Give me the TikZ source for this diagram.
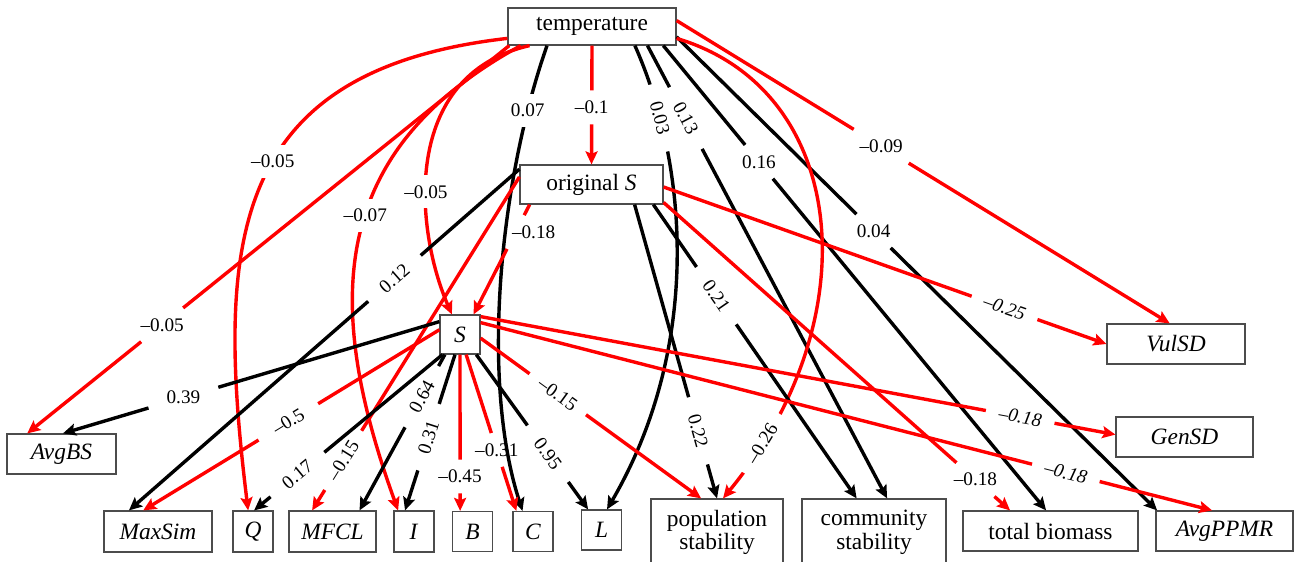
\documentclass[tikz,border=0pt]{standalone}
\usepackage{fontspec}
\setmainfont{Liberation Serif}
\usetikzlibrary{arrows.meta}

\tikzset{
  var/.style={draw=black!70, line width=0.6pt, fill=white, inner sep=0pt,
    font=\fontsize{11.7}{11.8}\selectfont},
  coef/.style={inner sep=0pt, minimum width=34.5pt, minimum height=16.5pt, text=black,
    font=\fontsize{9.6}{11}\selectfont},
  posedge/.style={black, line width=1.7pt},
  negedge/.style={red, line width=1.7pt},
}

\begin{document}
\begin{tikzpicture}[x=0.5pt, y=-0.5pt, >={Stealth[length=6.5pt,width=6pt,inset=1.2pt]}]
\useasboundingbox (0,0) rectangle (1296,562);

% variables
\node[var, minimum width=84pt, minimum height=18.5pt] (temp) at (592,26.5) {temperature};
\node[var, minimum width=71.5pt, minimum height=19.5pt] (origS) at (591.5,184.5) {original \textit{S}};
\node[var, minimum width=20pt, minimum height=19.5pt] (S) at (460,334.5) {\textit{S}};
\node[var, minimum width=69pt, minimum height=20pt] (VulSD) at (1176,344) {\textit{VulSD}};
\node[var, minimum width=68.5pt, minimum height=20pt] (GenSD) at (1184.5,437) {\textit{GenSD}};
\node[var, minimum width=54.5pt, minimum height=20pt] (AvgBS) at (61.5,454) {\textit{AvgBS}};
\node[var, minimum width=54pt, minimum height=20.5pt] (MaxSim) at (158,531.5) {\textit{MaxSim}};
\node[var, minimum width=20pt, minimum height=20.5pt] (Q) at (253,531.5) {\textit{Q}};
\node[var, minimum width=43.5pt, minimum height=20.5pt] (MFCL) at (332.5,531.5) {\textit{MFCL}};
\node[var, minimum width=20pt, minimum height=20.5pt] (I) at (414,531.5) {\textit{I}};
\node[var, minimum width=20pt, minimum height=20pt] (B) at (472.5,531.5) {\textit{B}};
\node[var, minimum width=20pt, minimum height=20pt] (C) at (533,531.5) {\textit{C}};
\node[var, minimum width=20pt, minimum height=20pt] (L) at (601.5,530) {\textit{L}};
\node[var, minimum width=66pt, minimum height=33.5pt, align=center] (popstab) at (717,532.5) {population\\stability};
\node[var, minimum width=72pt, minimum height=33.5pt, align=center] (commstab) at (874,532.5) {community\\stability};
\node[var, minimum width=87.5pt, minimum height=20pt] (totbio) at (1050.5,531) {total biomass};
\node[var, minimum width=68.5pt, minimum height=20pt] (AvgPPMR) at (1224.5,531) {\textit{AvgPPMR}};

% temperature
\path (temp.193) -- node[coef,pos=.72] (c1) {--0.05} (AvgBS.149);
\draw[negedge] (temp.193) -- (c1);
\draw[negedge,->] (c1) -- (AvgBS.149);
\draw[negedge,->] (temp.188) .. controls (230,70) and (215,240) .. (Q.103) node[coef,fill=white,pos=.45] (c2) {--0.05};
\draw[negedge,->] (temp.195) .. controls (330,150) and (322,300) .. (I.127) node[coef,fill=white,pos=.45] (c3) {--0.07};
\draw[negedge,->] (temp.197) .. controls (400,75) and (415,230) .. (S.112) node[coef,fill=white,pos=.6] (c4) {--0.05};
\draw[posedge,->] (temp.203) .. controls (500,180) and (480,380) .. (C.117) node[coef,fill=white,pos=.15] (c5) {0.07};
\path (temp.270) -- node[coef,pos=.52] (c6) {--0.1} (origS.90);
\draw[negedge] (temp.270) -- (c6);
\draw[negedge,->] (c6) -- (origS.90);
\draw[posedge,->] (temp.336) .. controls (690,170) and (700,350) .. (L.75) node[coef,fill=white,pos=.18,sloped] (c7) {0.03};
\path (temp.341) -- node[coef,pos=.16,sloped] (c8) {0.13} (commstab.69);
\draw[posedge] (temp.341) -- (c8);
\draw[posedge,->] (c8) -- (commstab.69);
\path (temp.345) -- node[coef,pos=.25] (c9) {0.16} (totbio.102);
\draw[posedge] (temp.345) -- (c9);
\draw[posedge,->] (c9) -- (totbio.102);
\path (temp.353) -- node[coef,pos=.41] (c10) {0.04} (AvgPPMR.163);
\draw[posedge] (temp.353) -- (c10);
\draw[posedge,->] (c10) -- (AvgPPMR.163);
\draw[negedge,->] (temp.352) .. controls (850,90) and (870,320) .. (popstab.80) node[coef,fill=white,pos=.9,sloped] (c11) {--0.26};
\path (temp.4) -- node[coef,pos=.415] (c12) {--0.09} (VulSD.107);
\draw[negedge] (temp.4) -- (c12);
\draw[negedge,->] (c12) -- (VulSD.107);

% original S
\path (origS.198) -- node[coef,pos=.25] (c13) {\hspace{18pt}--0.18} (S.56);
\draw[negedge] (origS.198) -- (c13);
\draw[negedge,->] (c13) -- (S.56);
\path (origS.168) -- node[coef,pos=.32,sloped] (c14) {0.12} (MaxSim.144);
\draw[posedge] (origS.168) -- (c14);
\draw[posedge,->] (c14) -- (MaxSim.144);
\path (origS.174) -- node[coef,pos=.85,sloped] (c15) {--0.15} (MFCL.134);
\draw[negedge] (origS.174) -- (c15);
\draw[negedge,->] (c15) -- (MFCL.134);
\path (origS.358) -- node[coef,pos=.77,sloped] (c16) {\textit{--0.25}} (VulSD.180);
\draw[negedge] (origS.358) -- (c16);
\draw[negedge,->] (c16) -- (VulSD.180);
\path (origS.346) -- node[coef,pos=.9] (c17) {--0.18} (totbio.153);
\draw[negedge] (origS.346) -- (c17);
\draw[negedge,->] (c17) -- (totbio.153);
\path (origS.335) -- node[coef,pos=.77,sloped] (c18) {0.22} (popstab.90);
\draw[posedge] (origS.335) -- (c18);
\draw[posedge,->] (c18) -- (popstab.90);
\path (origS.342) -- node[coef,pos=.31,sloped] (c19) {0.21} (commstab.117);
\draw[posedge] (origS.342) -- (c19);
\draw[posedge,->] (c19) -- (commstab.117);

% S
\path (S.148) -- node[coef,pos=.68] (c20) {0.39} (AvgBS.86);
\draw[posedge] (S.148) -- (c20);
\draw[posedge,->] (c20) -- (AvgBS.86);
\path (S.167) -- node[coef,pos=.51,sloped] (c21) {--0.5} (MaxSim.125);
\draw[negedge] (S.167) -- (c21);
\draw[negedge,->] (c21) -- (MaxSim.125);
\path (S.229) -- node[coef,pos=.77,sloped] (c22) {0.17} (Q.87);
\draw[posedge] (S.229) -- (c22);
\draw[posedge,->] (c22) -- (Q.87);
\path (S.233) -- node[coef,pos=.27,sloped] (c23) {0.64} (MFCL.38);
\draw[posedge] (S.233) -- (c23);
\draw[posedge,->] (c23) -- (MFCL.38);
\path (S.256) -- node[coef,pos=.53,sloped] (c24) {0.31} (I.113);
\draw[posedge] (S.256) -- (c24);
\draw[posedge,->] (c24) -- (I.113);
\path (S.270) -- node[coef,pos=.78] (c25) {--0.45} (B.121);
\draw[negedge] (S.270) -- (c25);
\draw[negedge,->] (c25) -- (B.121);
\path (S.287) -- node[coef,pos=.61] (c26) {--0.31} (C.129);
\draw[negedge] (S.287) -- (c26);
\draw[negedge,->] (c26) -- (C.129);
\path (S.309) -- node[coef,pos=.64,sloped] (c27) {0.95} (L.123);
\draw[posedge] (S.309) -- (c27);
\draw[posedge,->] (c27) -- (L.123);
\path (S.350) -- node[coef,pos=.35,sloped] (c28) {--0.15} (popstab.115);
\draw[negedge] (S.350) -- (c28);
\draw[negedge,->] (c28) -- (popstab.115);
\path (S.41) -- node[coef,pos=.85,sloped] (c29) {\textit{--0.18}} (GenSD.178);
\draw[negedge] (S.41) -- (c29);
\draw[negedge,->] (c29) -- (GenSD.178);
\path (S.30) -- node[coef,pos=.8,sloped] (c30) {\textit{--0.18}} (AvgPPMR.121);
\draw[negedge] (S.30) -- (c30);
\draw[negedge,->] (c30) -- (AvgPPMR.121);
\end{tikzpicture}
\end{document}
